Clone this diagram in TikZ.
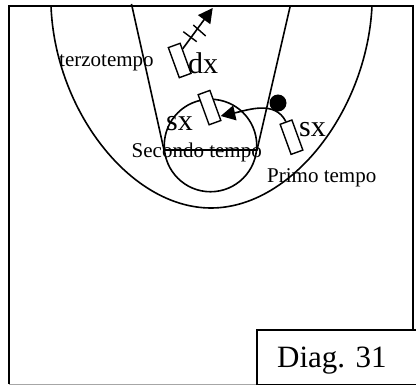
\documentclass[tikz,border=0pt]{standalone}
\usepackage{fontspec}
\setmainfont{Liberation Serif}
\usetikzlibrary{arrows.meta,calc}
\tikzset{
  court/.style={line width=1.6pt,draw=black},
  screen/.style={draw=black,fill=white,line width=1.4pt,minimum width=12.5pt,minimum height=32pt,inner sep=0pt,rotate=20},
  lbl/.style={anchor=base west,inner sep=0pt,text=black},
  small/.style={lbl,font=\fontsize{21}{21}\selectfont},
  big/.style={lbl,font=\fontsize{30}{30}\selectfont},
  move/.style={line width=1.6pt,-{Triangle[length=14.5pt,width=15pt]}},
  tick/.style={line width=1.4pt}
}
\begin{document}
\begin{tikzpicture}[x=1pt,y=-1pt]
\useasboundingbox (0,0) rectangle (416,385);
\fill[white] (0,0) rectangle (416,385);
% court
\coordinate (tl) at (9,6);
\coordinate (tr) at (413,6);
\coordinate (bl) at (9,384);
\coordinate (br) at (256,384);
\draw[court] (bl) -- (tl) -- (tr) -- (413,329);
\draw[gray!70,line width=.8pt] (bl) -- (br);
% three-point arc
\draw[court] (51,6) .. controls (55,110) and (130,208) .. (211,208)
   .. controls (292,208) and (367,110) .. (372,6);
% key
\coordinate (kl) at (164,150);
\coordinate (kr) at (257,150);
\draw[court] (131.5,4) -- (kl) -- (kr) -- (290,7);
\node[draw=black,line width=1.6pt,circle,minimum size=92.5pt,inner sep=0pt] (ring) at (210.5,145.5) {};
% texts under shapes
\node[small] (t3) at (59,66.5) {terzotempo};
\node[small] (t2) at (131.5,158) {Secondo tempo};
\node[small] (t1) at (267,182.5) {Primo tempo};
% screens
\node[screen] (r1) at (179.7,60.5) {};
\node[screen] (r2) at (209.5,107.6) {};
\node[screen] (r3) at (291.5,137.2) {};
\node[big] (dx) at (188,74) {dx};
\node[big] (sx1) at (166,131) {sx};
\node[big] (sx2) at (299,137) {sx};
% ball
\node[circle,fill=black,minimum size=17pt,inner sep=0pt] (ball) at (278,103) {};
% moves
\coordinate (tip1) at (212.7,8);
\coordinate (tip2) at (220.7,116);
\draw[move] ($(r1.north east)!.2!(r1.south east)$) -- (tip1);
\draw[move] (r3.north) .. controls (275,100) and (248,110) .. (tip2);
% ticks
\coordinate (a1) at (183.3,31.7);
\coordinate (a2) at (196.7,41.7);
\coordinate (b1) at (193.3,25);
\coordinate (b2) at (205.7,36);
\draw[tick] (a1) -- (a2);
\draw[tick] (b1) -- (b2);
% label box
\node[draw=black,fill=white,line width=1.6pt,minimum width=160pt,minimum height=55pt,inner sep=0pt,anchor=north west] (box) at (256,329) {};
\node[lbl,font=\fontsize{31}{31}\selectfont] (diag) at (277,368) {Diag. 31};
\end{tikzpicture}
\end{document}
